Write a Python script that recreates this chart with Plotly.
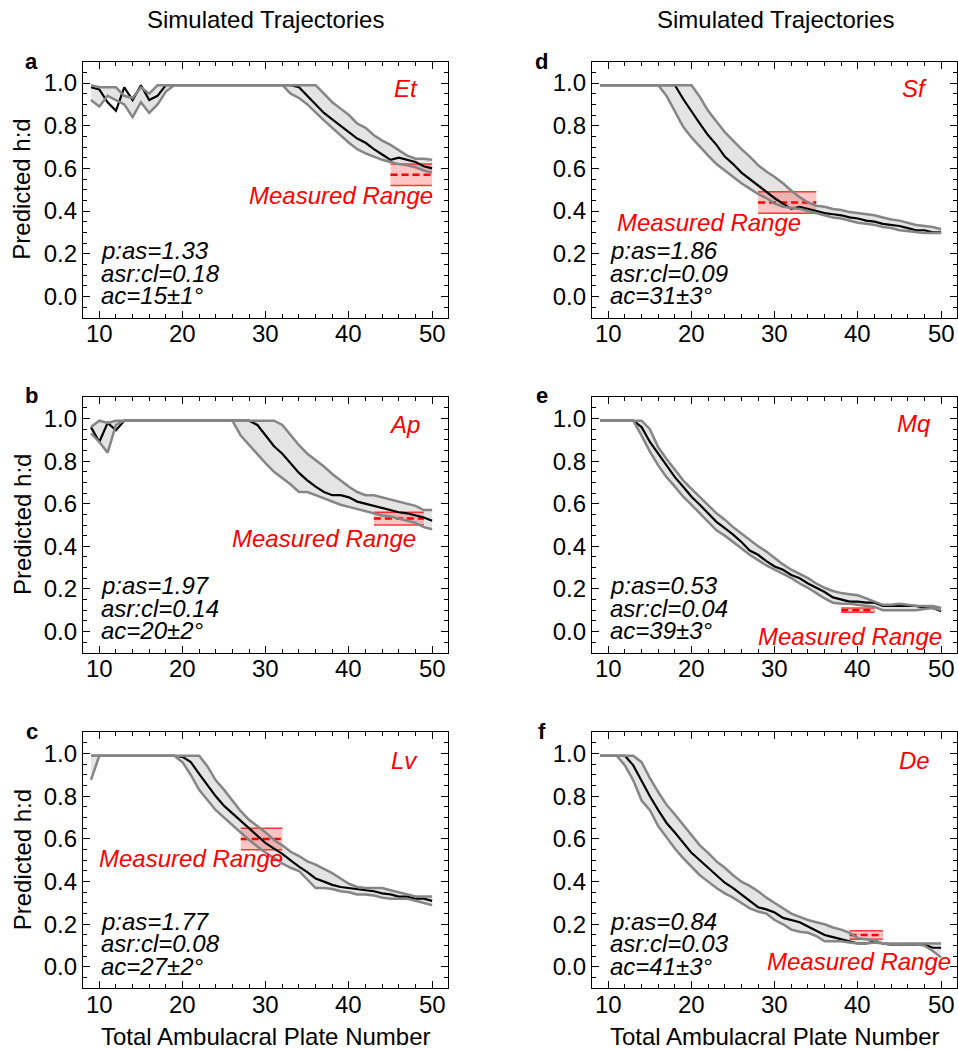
import plotly.graph_objects as go

# ---------------- data ----------------
plates = list(range(9, 51))

# panel a (Et)
a_med = [0.98, 0.97, 0.91, 0.87, 0.98, 0.92, 0.99, 0.92, 0.94, 0.99] + [0.99]*15 + \
        [0.98, 0.94, 0.90, 0.86, 0.83, 0.80, 0.77, 0.74, 0.72, 0.69, 0.665, 0.64, 0.65, 0.64, 0.63, 0.61, 0.60]
a_up = [0.99, 0.98, 0.98, 0.98, 0.94, 0.93, 0.98, 0.95, 0.99, 0.99] + [0.99]*18 + \
       [0.95, 0.91, 0.88, 0.85, 0.81, 0.79, 0.755, 0.73, 0.71, 0.685, 0.66, 0.645, 0.645, 0.64]
a_lo = [0.92, 0.89, 0.94, 0.92, 0.90, 0.84, 0.91, 0.86, 0.90, 0.96] + [0.99]*14 + \
       [0.95, 0.93, 0.90, 0.86, 0.825, 0.79, 0.755, 0.72, 0.69, 0.67, 0.655, 0.64, 0.63, 0.62, 0.615, 0.605, 0.59, 0.58]

# panel b (Ap)
b_med = [0.96, 0.89, 0.98, 0.945] + [0.99]*16 + \
        [0.97, 0.92, 0.87, 0.835, 0.79, 0.745, 0.71, 0.68, 0.655, 0.64, 0.64, 0.63, 0.61, 0.60, 0.59, 0.58,
         0.57, 0.56, 0.555, 0.545, 0.535, 0.52]
b_up = [0.96, 0.99, 0.98, 0.99] + [0.99]*19 + \
       [0.97, 0.92, 0.875, 0.835, 0.805, 0.775, 0.74, 0.71, 0.68, 0.655, 0.64, 0.64, 0.63, 0.62, 0.61, 0.60,
        0.59, 0.57, 0.57]
b_lo = [0.93, 0.89, 0.84, 0.97] + [0.99]*14 + \
       [0.92, 0.875, 0.83, 0.79, 0.75, 0.72, 0.69, 0.655, 0.655, 0.64, 0.625, 0.61, 0.595, 0.585, 0.575, 0.565,
        0.555, 0.545, 0.54, 0.53, 0.52, 0.51, 0.49, 0.48]

# panel c (Lv)
c_med = [0.99]*11 + \
        [0.985, 0.96, 0.905, 0.85, 0.80, 0.755, 0.72, 0.685, 0.65, 0.615, 0.58, 0.555, 0.53, 0.50, 0.47, 0.445,
         0.415, 0.40, 0.385, 0.375, 0.37, 0.365, 0.36, 0.355, 0.345, 0.34, 0.33, 0.33, 0.32, 0.32, 0.31]
c_up = [0.99]*14 + \
       [0.94, 0.875, 0.83, 0.78, 0.73, 0.69, 0.66, 0.63, 0.595, 0.57, 0.54, 0.52, 0.495, 0.48, 0.46, 0.44,
        0.415, 0.39, 0.375, 0.37, 0.37, 0.37, 0.36, 0.35, 0.34, 0.33, 0.33, 0.33]
c_lo = [0.877] + [0.99]*10 + \
       [0.96, 0.90, 0.83, 0.78, 0.735, 0.70, 0.665, 0.63, 0.595, 0.565, 0.535, 0.51, 0.485, 0.465, 0.45, 0.41,
        0.37, 0.37, 0.365, 0.355, 0.35, 0.34, 0.34, 0.335, 0.325, 0.32, 0.32, 0.32, 0.31, 0.30, 0.29]

# panel d (Sf)
d_med = [0.99]*10 + \
        [0.925, 0.865, 0.81, 0.755, 0.71, 0.655, 0.62, 0.58, 0.55, 0.52, 0.49, 0.46, 0.435, 0.41, 0.42, 0.41,
         0.40, 0.39, 0.385, 0.38, 0.37, 0.365, 0.355, 0.35, 0.34, 0.335, 0.33, 0.32, 0.31, 0.31, 0.30, 0.30]
d_up = [0.99]*12 + \
       [0.935, 0.87, 0.82, 0.77, 0.73, 0.69, 0.655, 0.615, 0.585, 0.56, 0.53, 0.495, 0.465, 0.44, 0.425, 0.42,
        0.41, 0.405, 0.395, 0.39, 0.385, 0.38, 0.37, 0.36, 0.355, 0.345, 0.335, 0.33, 0.325, 0.315]
d_lo = [0.99]*8 + \
       [0.94, 0.87, 0.795, 0.745, 0.70, 0.66, 0.62, 0.59, 0.56, 0.53, 0.505, 0.48, 0.46, 0.435, 0.42, 0.415,
        0.41, 0.40, 0.39, 0.38, 0.37, 0.365, 0.355, 0.345, 0.34, 0.335, 0.325, 0.32, 0.31, 0.305, 0.30, 0.297,
        0.297, 0.297]

# panel e (Mq)
e_med = [0.99]*5 + \
        [0.96, 0.89, 0.835, 0.78, 0.725, 0.68, 0.633, 0.595, 0.555, 0.515, 0.485, 0.455, 0.42, 0.38, 0.36, 0.33,
         0.305, 0.29, 0.265, 0.25, 0.225, 0.205, 0.185, 0.16, 0.15, 0.14, 0.14, 0.135, 0.135, 0.12, 0.12, 0.12,
         0.12, 0.12, 0.11, 0.11, 0.095]
e_up = [0.99]*6 + \
       [0.95, 0.865, 0.81, 0.76, 0.71, 0.67, 0.633, 0.595, 0.555, 0.525, 0.49, 0.46, 0.43, 0.40, 0.375, 0.345,
        0.315, 0.29, 0.27, 0.25, 0.225, 0.205, 0.19, 0.18, 0.175, 0.17, 0.155, 0.14, 0.125, 0.125, 0.13, 0.125,
        0.12, 0.12, 0.12, 0.11]
e_lo = [0.99]*5 + \
       [0.92, 0.845, 0.78, 0.725, 0.68, 0.633, 0.595, 0.555, 0.515, 0.475, 0.45, 0.42, 0.39, 0.36, 0.335, 0.31,
        0.29, 0.27, 0.25, 0.225, 0.205, 0.18, 0.155, 0.135, 0.13, 0.13, 0.125, 0.12, 0.115, 0.10, 0.10, 0.10,
        0.10, 0.10, 0.105, 0.11, 0.10]

# panel f (De)
f_med = [0.99]*4 + \
        [0.945, 0.87, 0.80, 0.735, 0.675, 0.63, 0.58, 0.535, 0.50, 0.465, 0.43, 0.395, 0.37, 0.34, 0.31, 0.28,
         0.27, 0.255, 0.23, 0.22, 0.21, 0.19, 0.17, 0.15, 0.14, 0.13, 0.12, 0.11, 0.11, 0.12, 0.11, 0.105,
         0.105, 0.105, 0.105, 0.105, 0.09, 0.09]
f_up = [0.99]*5 + \
       [0.96, 0.885, 0.82, 0.76, 0.715, 0.665, 0.62, 0.57, 0.535, 0.495, 0.465, 0.43, 0.40, 0.38, 0.355, 0.325,
        0.30, 0.275, 0.25, 0.235, 0.22, 0.21, 0.20, 0.185, 0.175, 0.16, 0.135, 0.13, 0.125, 0.11, 0.11, 0.11,
        0.11, 0.11, 0.11, 0.11, 0.11]
f_lo = [0.99]*3 + \
       [0.945, 0.875, 0.78, 0.735, 0.66, 0.605, 0.555, 0.51, 0.47, 0.43, 0.40, 0.37, 0.345, 0.325, 0.30, 0.275,
        0.26, 0.25, 0.22, 0.20, 0.175, 0.165, 0.16, 0.145, 0.12, 0.12, 0.12, 0.115, 0.11, 0.11, 0.115, 0.11,
        0.105, 0.105, 0.105, 0.105, 0.10, 0.075, 0.045]

# measured ranges: [x_start, x_end], [low, high, mid]
a_rng_x, a_rng_y = [45, 50], [0.52, 0.62, 0.57]
b_rng_x, b_rng_y = [43, 49], [0.50, 0.56, 0.53]
c_rng_x, c_rng_y = [27, 32], [0.55, 0.65, 0.60]
d_rng_x, d_rng_y = [28, 35], [0.39, 0.49, 0.44]
e_rng_x, e_rng_y = [38, 42], [0.09, 0.11, 0.10]
f_rng_x, f_rng_y = [39, 43], [0.13, 0.17, 0.15]

species = ["Et", "Ap", "Lv", "Sf", "Mq", "De"]
letters = ["a", "b", "c", "d", "e", "f"]
p_as = ["1.33", "1.97", "1.77", "1.86", "0.53", "0.84"]
asr_cl = ["0.18", "0.14", "0.08", "0.09", "0.04", "0.03"]
ac = ["15±1°", "20±2°", "27±2°", "31±3°", "39±3°", "41±3°"]

y_ticks = [0.0, 0.2, 0.4, 0.6, 0.8, 1.0]
x_ticks = [10, 20, 30, 40, 50]

# ---------------- layout geometry ----------------
W, H = 958, 1049
col_px = [(83, 448), (592, 957)]
row_px = [(61.7, 317.7), (397.3, 652.7), (732.3, 988.3)]

panels = [
    (a_med, a_up, a_lo, a_rng_x, a_rng_y),
    (b_med, b_up, b_lo, b_rng_x, b_rng_y),
    (c_med, c_up, c_lo, c_rng_x, c_rng_y),
    (d_med, d_up, d_lo, d_rng_x, d_rng_y),
    (e_med, e_up, e_lo, e_rng_x, e_rng_y),
    (f_med, f_up, f_lo, f_rng_x, f_rng_y),
]
pos = [(0, 0), (0, 1), (0, 2), (1, 0), (1, 1), (1, 2)]

species_xy = [(48.56, 0.973), (48.76, 0.97), (48.56, 0.97), (48.5, 0.973), (49.0, 0.977), (48.9, 0.97)]
meas_xy = [(50.36, 0.473), (48.36, 0.4375), (32.3, 0.51), (33.37, 0.348), (50.36, -0.023), (51.48, 0.0265)]

FONT = "Liberation Sans, Arial, Helvetica, sans-serif"
FS = 24
GRAY = "#858585"
FILL = "#e4e4e4"
RED = "#ff0000"

fig = go.Figure()
annotations = []

for i, (med, up, lo, rx, ry) in enumerate(panels):
    k = i + 1
    xr = "x" if k == 1 else f"x{k}"
    yr = "y" if k == 1 else f"y{k}"
    fig.add_trace(go.Scatter(x=plates, y=up, mode="lines", line=dict(width=0, color=GRAY),
                             xaxis=xr, yaxis=yr, showlegend=False, hoverinfo="skip"))
    fig.add_trace(go.Scatter(x=plates, y=lo, mode="lines", line=dict(width=0, color=GRAY),
                             fill="tonexty", fillcolor=FILL,
                             xaxis=xr, yaxis=yr, showlegend=False, hoverinfo="skip"))
    fig.add_trace(go.Scatter(x=rx, y=[ry[1], ry[1]], mode="lines",
                             line=dict(width=1.5, color="rgba(255,0,0,0.75)"),
                             xaxis=xr, yaxis=yr, showlegend=False, hoverinfo="skip"))
    fig.add_trace(go.Scatter(x=rx, y=[ry[0], ry[0]], mode="lines",
                             line=dict(width=1.5, color="rgba(255,0,0,0.75)"),
                             fill="tonexty", fillcolor="rgba(255,60,60,0.30)",
                             xaxis=xr, yaxis=yr, showlegend=False, hoverinfo="skip"))
    fig.add_trace(go.Scatter(x=rx, y=[ry[2], ry[2]], mode="lines",
                             line=dict(width=2.5, color=RED, dash="7px,4px"),
                             xaxis=xr, yaxis=yr, showlegend=False, hoverinfo="skip"))
    fig.add_trace(go.Scatter(x=plates, y=med, mode="lines", line=dict(width=2.2, color="black"),
                             xaxis=xr, yaxis=yr, showlegend=False, hoverinfo="skip"))
    fig.add_trace(go.Scatter(x=plates, y=up, mode="lines", line=dict(width=2.5, color=GRAY),
                             xaxis=xr, yaxis=yr, showlegend=False, hoverinfo="skip"))
    fig.add_trace(go.Scatter(x=plates, y=lo, mode="lines", line=dict(width=2.5, color=GRAY),
                             xaxis=xr, yaxis=yr, showlegend=False, hoverinfo="skip"))

    col, row = pos[i]
    x0, x1 = col_px[col]
    y0, y1 = row_px[row]
    axkw = dict(showline=True, linecolor="black", linewidth=1.3, mirror="allticks",
                ticks="inside", ticklen=7, tickwidth=1.1, tickcolor="black",
                showgrid=False, zeroline=False,
                tickfont=dict(family=FONT, size=FS, color="black"))
    fig.layout["xaxis" if k == 1 else f"xaxis{k}"] = dict(
        domain=[x0 / W, x1 / W], range=[8.04, 51.91], anchor=yr,
        tickvals=x_ticks, showticklabels=False,
        minor=dict(dtick=2, tick0=0, ticks="inside", ticklen=4, tickwidth=1, tickcolor="black"),
        **axkw)
    fig.layout["yaxis" if k == 1 else f"yaxis{k}"] = dict(
        domain=[1 - y1 / H, 1 - y0 / H], range=[-0.1, 1.1], anchor=xr,
        tickvals=y_ticks, ticktext=[f"{v:.1f}" for v in y_ticks],
        minor=dict(dtick=0.05, tick0=0, ticks="inside", ticklen=4, tickwidth=1, tickcolor="black"),
        **axkw)

    # x tick labels placed just below the axis
    for tv in x_ticks:
        annotations.append(dict(x=tv, y=1 - (y1 + 16) / H, xref=xr, yref="paper", text=str(tv),
                                showarrow=False, xanchor="center", yanchor="middle",
                                font=dict(family=FONT, size=FS, color="black")))

    sx, sy = species_xy[i]
    annotations.append(dict(x=sx, y=sy, xref=xr, yref=yr, text=f"<i>{species[i]}</i>",
                            showarrow=False, xanchor="right", yanchor="middle",
                            font=dict(family=FONT, size=FS, color=RED)))
    mx, my = meas_xy[i]
    annotations.append(dict(x=mx, y=my, xref=xr, yref=yr, text="<i>Measured Range</i>",
                            showarrow=False, xanchor="right", yanchor="middle",
                            font=dict(family=FONT, size=FS, color=RED)))
    for txt, yy in zip([f"p:as={p_as[i]}", f"asr:cl={asr_cl[i]}", f"ac={ac[i]}"], [0.215, 0.108, 0.003]):
        annotations.append(dict(x=10.0, y=yy, xref=xr, yref=yr, text=f"<i>{txt}</i>",
                                showarrow=False, xanchor="left", yanchor="middle",
                                font=dict(family=FONT, size=FS, color="black")))
    lx = 32 if col == 0 else 541.7
    ly = [61.5, 395, 731][row]
    annotations.append(dict(x=lx / W, y=1 - ly / H, xref="paper", yref="paper", text=f"<b>{letters[i]}</b>",
                            showarrow=False, xanchor="center", yanchor="middle",
                            font=dict(family=FONT, size=22, color="black")))
    if col == 0:
        annotations.append(dict(x=22 / W, y=1 - (y0 + y1) / 2 / H, xref="paper", yref="paper",
                                text="Predicted h:d", textangle=-90, showarrow=False,
                                xanchor="center", yanchor="middle",
                                font=dict(family=FONT, size=FS, color="black")))
    if row == 2:
        annotations.append(dict(x=(x0 + x1) / 2 / W, y=1 - 1036 / H, xref="paper", yref="paper",
                                text="Total Ambulacral Plate Number", showarrow=False,
                                xanchor="center", yanchor="middle",
                                font=dict(family=FONT, size=FS, color="black")))

for cx in [265, 775]:
    annotations.append(dict(x=cx / W, y=1 - 19 / H, xref="paper", yref="paper",
                            text="Simulated Trajectories", showarrow=False,
                            xanchor="center", yanchor="middle",
                            font=dict(family=FONT, size=FS, color="black")))

fig.update_layout(width=W, height=H, margin=dict(l=0, r=0, t=0, b=0),
                  paper_bgcolor="white", plot_bgcolor="white",
                  annotations=annotations, showlegend=False)

fig.write_html("out.html", config={"displayModeBar": False},
               post_script="document.body.style.margin='0';")
